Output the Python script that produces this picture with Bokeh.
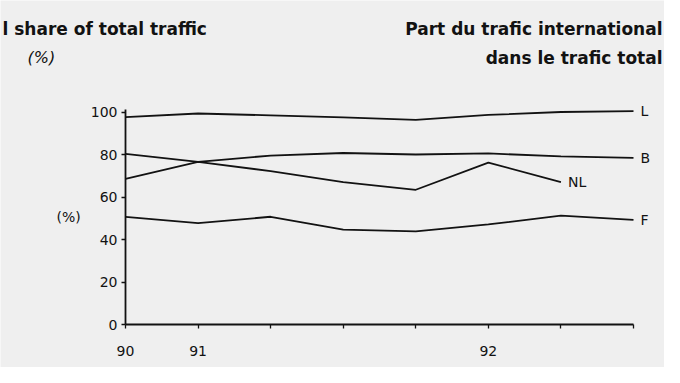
from bokeh.plotting import figure
from bokeh.models import Range1d, FixedTicker, Label
from bokeh.embed import file_html
from bokeh.resources import INLINE

# ---- data ----
periods = ["1990-Q4", "1991-Q1", "1991-Q2", "1991-Q3", "1991-Q4", "1992-Q1", "1992-Q2", "1992-Q3"]
x_tick_labels = ["90", "91", "", "", "", "92", "", ""]
y_ticks = [0, 20, 40, 60, 80, 100]

series_names = ["L", "B", "NL", "F"]
L_values = [97.6, 99.3, 98.4, 97.5, 96.3, 98.6, 100.0, 100.4]
B_values = [80.3, 76.5, 79.5, 80.7, 80.0, 80.5, 79.1, 78.4]
NL_values = [68.5, 76.5, 72.2, 67.0, 63.4, 76.2, 67.0]
F_values = [50.6, 47.7, 50.7, 44.6, 43.8, 47.1, 51.2, 49.2]
all_values = [L_values, B_values, NL_values, F_values]

title_left = ["l share of total traffic", "(%)"]
title_right = ["Part du trafic international", "dans le trafic total"]
y_label = "(%)"

# ---- layout (pixels) ----
W, H = 664, 367
X0_PX, X1_PX = 125, 633      # x of first / last period
Y0_PX, Y100_PX = 324, 111.5  # y of 0 % and 100 %
n = len(periods)
xs_per_px = (n - 1) / (X1_PX - X0_PX)
ys_per_px = 100 / (Y0_PX - Y100_PX)

BG = "#efefef"
INK = "#121212"
FONT = "DejaVu Sans"

p = figure(width=W, height=H, output_backend="svg", toolbar_location=None,
           x_range=Range1d(-X0_PX * xs_per_px, (n - 1) + (W - X1_PX) * xs_per_px),
           y_range=Range1d(-(H - Y0_PX) * ys_per_px, 100 + Y100_PX * ys_per_px),
           min_border_left=0, min_border_right=0, min_border_top=0, min_border_bottom=0)
p.background_fill_color = BG
p.border_fill_color = BG
p.outline_line_color = None
p.grid.visible = False

for ax in (p.xaxis[0], p.yaxis[0]):
    ax.fixed_location = 0
    ax.axis_line_color = INK
    ax.axis_line_width = 1.8
    ax.major_tick_line_color = INK
    ax.major_tick_line_width = 1.3
    ax.major_tick_out = 4
    ax.major_tick_in = 0
    ax.minor_tick_line_color = None
    ax.major_label_text_font = FONT
    ax.major_label_text_font_size = "14px"
    ax.major_label_text_color = INK

p.xaxis.bounds = (0, n - 1)
p.xaxis.ticker = FixedTicker(ticks=list(range(n)))
p.xaxis.major_label_overrides = {i: lab for i, lab in enumerate(x_tick_labels)}
p.xaxis.major_label_standoff = 17

p.yaxis.bounds = (0, 101)
p.yaxis.ticker = FixedTicker(ticks=y_ticks)
p.yaxis.major_label_standoff = 4

for name, vals in zip(series_names, all_values):
    xs = list(range(len(vals)))
    p.line(xs, vals, line_color=INK, line_width=1.8)
    p.add_layout(Label(x=xs[-1], y=vals[-1], text=name, x_offset=7,
                       text_align="left", text_baseline="middle",
                       text_font=FONT, text_font_size="14px", text_color=INK))

# y-axis unit label and titles (screen units from bottom-left)
p.add_layout(Label(x=56, y=H - 216, x_units="screen", y_units="screen", text=y_label,
                   text_align="left", text_baseline="middle", text_font=FONT,
                   text_font_size="14px", text_color=INK))
p.add_layout(Label(x=2, y=H - 28, x_units="screen", y_units="screen", text=title_left[0],
                   text_align="left", text_baseline="middle", text_font=FONT,
                   text_font_style="bold", text_font_size="17px", text_color=INK))
p.add_layout(Label(x=27, y=H - 57, x_units="screen", y_units="screen", text=title_left[1],
                   text_align="left", text_baseline="middle", text_font=FONT,
                   text_font_style="italic", text_font_size="16px", text_color=INK))
p.add_layout(Label(x=W - 2, y=H - 28, x_units="screen", y_units="screen", text=title_right[0],
                   text_align="right", text_baseline="middle", text_font=FONT,
                   text_font_style="bold", text_font_size="17px", text_color=INK))
p.add_layout(Label(x=W - 2, y=H - 57, x_units="screen", y_units="screen", text=title_right[1],
                   text_align="right", text_baseline="middle", text_font=FONT,
                   text_font_style="bold", text_font_size="17px", text_color=INK))

open("out.html", "w").write(file_html(p, INLINE))
